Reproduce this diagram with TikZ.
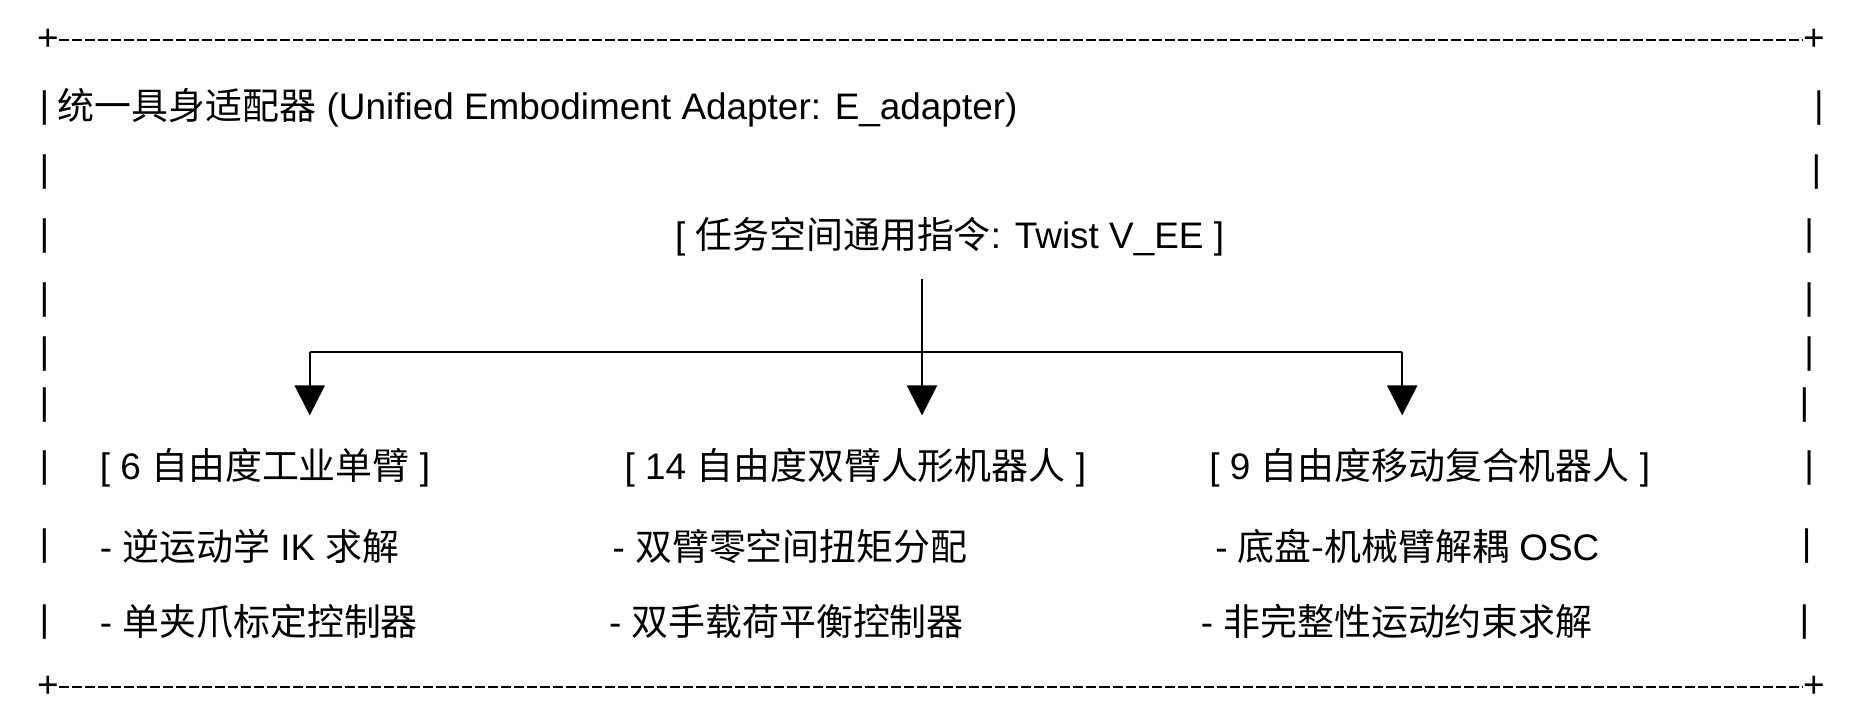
\documentclass[tikz,border=0pt]{standalone}
\usepackage{fontspec}
\setmainfont{Liberation Sans}
\newfontfamily\cjk{Noto Sans CJK SC}
\usetikzlibrary{arrows.meta}
\tikzset{
  txt/.style={anchor=west, inner sep=0pt, font=\fontsize{21}{24}\selectfont},
  bar/.style={anchor=center, inner sep=0pt, font=\fontsize{21}{24}\selectfont},
  frame/.style={line width=1.1pt, dash pattern=on 0.2cm off 0.06cm},
  link/.style={line width=1.4pt},
  tip/.style={-{Triangle[width=17pt,length=17pt]}},
}
\begin{document}
\begin{tikzpicture}[x=0.024cm, y=-0.024cm]
    \useasboundingbox (0,0) rectangle (1556,605);

    % Rahmen oben und unten
    \node[bar] (tl) at (40,33) {+};
    \node[bar] (tr) at (1511,33) {+};
    \node[bar] (bl) at (40,572) {+};
    \node[bar] (br) at (1511,572) {+};
    \draw[frame] (tl.east) -- (tr.west);
    \draw[frame] (bl.east) -- (br.west);

    % Seitenstriche
    \foreach \y/\r in {90/1515, 143/1513, 197/1507, 250/1507, 295/1507, 337/1503, 390/1507, 455/1505, 518/1503} {
        \node[bar] at (37,\y) {|};
        \node[bar] at (\r,\y) {|};
    }

    % Titel
    \node[txt] (title) at (48,90) {{\cjk 统一具身适配器} (Unified Embodiment Adapter: E\_adapter)};

    % Kopf
    \node[txt] (cmd) at (562,197) {[ {\cjk 任务空间通用指令}: Twist V\_EE ]};

    % Roboter
    \node[txt] (arm) at (83,390) {[ 6 {\cjk 自由度工业单臂} ]};
    \node[txt] (hum) at (520,390) {[ 14 {\cjk 自由度双臂人形机器人} ]};
    \node[txt] (mob) at (1007,390) {[ 9 {\cjk 自由度移动复合机器人} ]};

    \node[txt] (arm_a) at (83,455) {- {\cjk 逆运动学} IK {\cjk 求解}};
    \node[txt] (arm_b) at (83,518) {- {\cjk 单夹爪标定控制器}};
    \node[txt] (hum_a) at (510,455) {- {\cjk 双臂零空间扭矩分配}};
    \node[txt] (hum_b) at (507,518) {- {\cjk 双手载荷平衡控制器}};
    \node[txt] (mob_a) at (1012,455) {- {\cjk 底盘-机械臂解耦} OSC};
    \node[txt] (mob_b) at (1000,518) {- {\cjk 非完整性运动约束求解}};

    % Verbindungen
    \coordinate (top) at (768,232);
    \coordinate (leftb) at (258,293);
    \coordinate (midb) at (768,293);
    \coordinate (rightb) at (1168,293);
    \coordinate (arm_in) at (258,346);
    \coordinate (hum_in) at (768,346);
    \coordinate (mob_in) at (1168,346);
    \draw[link] (top) -- (midb);
    \draw[link] (leftb) -- (rightb);
    \draw[link, tip] (leftb) -- (arm_in);
    \draw[link, tip] (midb) -- (hum_in);
    \draw[link, tip] (rightb) -- (mob_in);
\end{tikzpicture}
\end{document}
